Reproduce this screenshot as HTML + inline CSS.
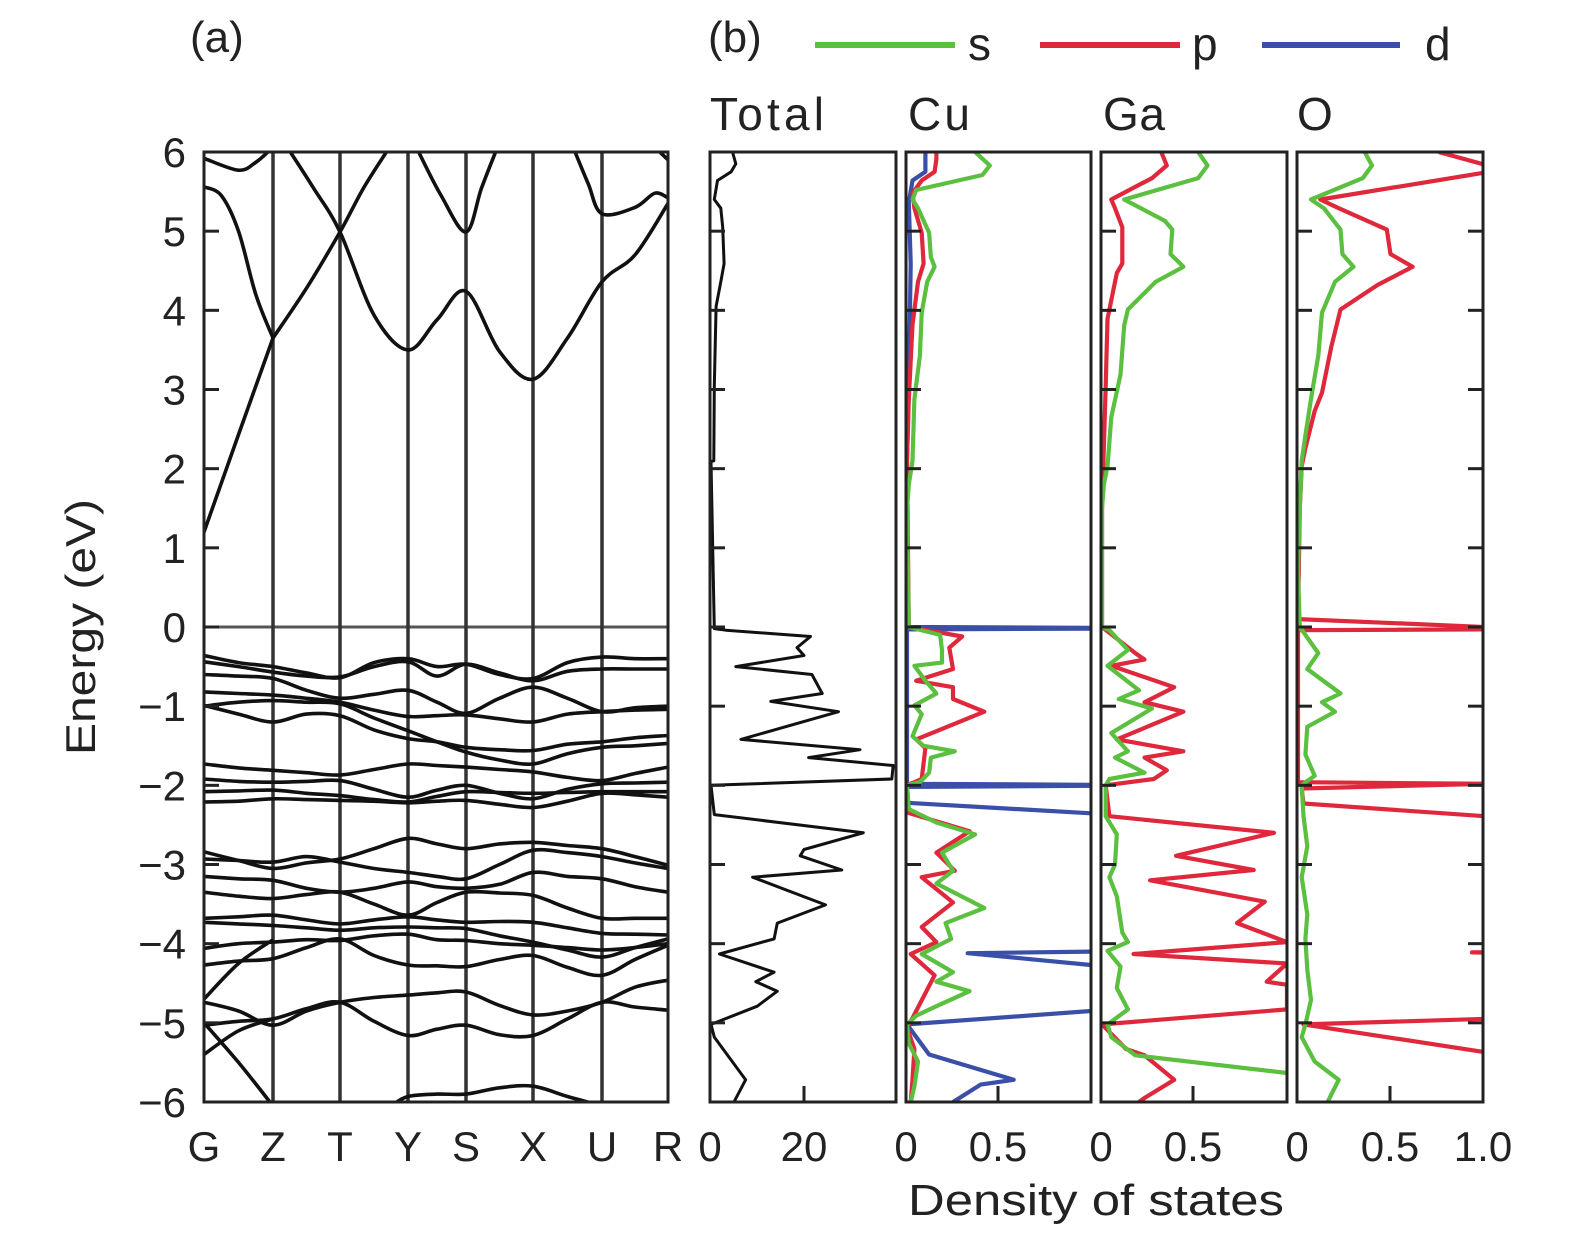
<!DOCTYPE html>
<html><head><meta charset="utf-8">
<style>
html,body{margin:0;padding:0;background:#fff;}
svg{display:block;font-family:"Liberation Sans",sans-serif;}
</style></head>
<body>
<svg id="fig" width="1575" height="1242" viewBox="0 0 1575 1242" xmlns="http://www.w3.org/2000/svg">
<defs>
<clipPath id="clipA"><rect x="204" y="152" width="464" height="950"/></clipPath>
<clipPath id="clipT"><rect x="710" y="152" width="186" height="950"/></clipPath>
<clipPath id="clipCu"><rect x="906" y="152" width="185" height="950"/></clipPath>
<clipPath id="clipGa"><rect x="1101" y="152" width="186" height="950"/></clipPath>
<clipPath id="clipO"><rect x="1297" y="152" width="186" height="950"/></clipPath>
</defs>
<text x="190" y="52" font-size="44" fill="#222">(a)</text>
<text x="708" y="52" font-size="44" fill="#222">(b)</text>
<g>
<line x1="815" y1="45" x2="955" y2="45" stroke="#5bbf3f" stroke-width="6"/>
<text x="968" y="60" font-size="46" fill="#222">s</text>
<line x1="1040" y1="45" x2="1180" y2="45" stroke="#e0283c" stroke-width="6"/>
<text x="1192" y="60" font-size="46" fill="#222">p</text>
<line x1="1262" y1="45" x2="1400" y2="45" stroke="#3a4fa8" stroke-width="6"/>
<text x="1425" y="60" font-size="46" fill="#222">d</text>
</g>
<text x="710" y="130" font-size="46" fill="#222" textLength="114">Total</text>
<text x="908" y="130" font-size="46" fill="#222" textLength="62">Cu</text>
<text x="1103" y="130" font-size="46" fill="#222" textLength="62">Ga</text>
<text x="1297" y="130" font-size="46" fill="#222">O</text>
<text transform="translate(95,627) rotate(-90)" text-anchor="middle" font-size="42" fill="#222" textLength="256" lengthAdjust="spacingAndGlyphs">Energy (eV)</text>
<text x="1096" y="1215" text-anchor="middle" font-size="44" fill="#222" textLength="376" lengthAdjust="spacingAndGlyphs">Density of states</text>
<g id="gA" clip-path="url(#clipA)"></g>
<g id="gT" clip-path="url(#clipT)"></g>
<g id="gCu" clip-path="url(#clipCu)"></g>
<g id="gGa" clip-path="url(#clipGa)"></g>
<g id="gO" clip-path="url(#clipO)"></g>
<g id="axes"></g>
</svg>
<script>
// ---------- data ----------
const kLabels = ["G","Z","T","Y","S","X","U","R"];
const kGrid = [0,0.5,1,1.5,2,2.5,3,3.5,4,4.5,5,5.5,6,6.5,7];
const yTicks = [6,5,4,3,2,1,0,-1,-2,-3,-4,-5,-6];
// conduction bands: k coordinates and energies
const cb1K = [0,0.5,1]; const cb1E = [1.2,2.43,3.65];
const cb2K = [1,1.5,2,2.35,2.72]; const cb2E = [3.65,4.28,4.99,5.55,6.05];
const cb3K = [0,0.25,0.5,0.75,1]; const cb3E = [5.56,5.45,5.0,4.2,3.65];
const cb4K = [1.22,1.6,2,2.5,3,3.5,4,4.5,5,5.5,6,6.5,7]; const cb4E = [6.05,5.55,4.99,3.94,3.5,3.88,4.24,3.48,3.13,3.65,4.36,4.7,5.35];
const cb5K = [0,0.5,0.75,0.95]; const cb5E = [5.92,5.77,5.87,6.02];
const cb6K = [3.17,3.57,4,4.23,4.45]; const cb6E = [6.02,5.45,4.99,5.54,6.02];
const cb7K = [5.6,5.8,6,6.5,6.8,7]; const cb7E = [6.02,5.6,5.22,5.3,5.48,5.42];
const cb8K = [6.85,7]; const cb8E = [6.02,5.9];
// valence bands on kGrid
const vb1 = [-0.36,-0.45,-0.5,-0.58,-0.64,-0.45,-0.4,-0.5,-0.47,-0.6,-0.65,-0.45,-0.38,-0.4,-0.4];
const vb2 = [-0.44,-0.5,-0.57,-0.62,-0.63,-0.5,-0.44,-0.62,-0.47,-0.58,-0.68,-0.56,-0.53,-0.53,-0.53];
const vb3 = [-0.6,-0.62,-0.65,-0.8,-0.9,-0.85,-0.8,-0.95,-1.09,-0.9,-0.76,-0.9,-1.07,-1.02,-1.0];
const vb4 = [-0.82,-0.84,-0.86,-0.9,-0.95,-1.05,-1.13,-1.12,-1.11,-1.16,-1.2,-1.1,-1.07,-1.05,-1.04];
const vb5 = [-0.99,-1.1,-1.2,-1.1,-1.12,-1.3,-1.41,-1.45,-1.52,-1.55,-1.56,-1.48,-1.45,-1.4,-1.37];
const vb6 = [-1.0,-0.95,-0.93,-0.95,-0.97,-1.15,-1.31,-1.45,-1.58,-1.68,-1.73,-1.6,-1.52,-1.5,-1.47];
const vb7 = [-1.73,-1.78,-1.81,-1.84,-1.87,-1.8,-1.73,-1.75,-1.77,-1.8,-1.83,-1.9,-1.94,-1.85,-1.77];
const vb8 = [-1.92,-1.95,-1.96,-1.95,-1.94,-2.05,-2.15,-2.06,-2.0,-2.1,-2.17,-2.05,-1.98,-1.97,-1.96];
const vb9 = [-2.08,-2.07,-2.06,-2.1,-2.13,-2.18,-2.21,-2.14,-2.08,-2.09,-2.1,-2.09,-2.08,-2.08,-2.08];
const vb10 = [-2.21,-2.2,-2.17,-2.18,-2.19,-2.2,-2.22,-2.2,-2.19,-2.24,-2.28,-2.2,-2.1,-2.12,-2.15];
const vb11 = [-2.84,-2.95,-3.05,-2.98,-2.93,-2.8,-2.67,-2.74,-2.8,-2.74,-2.72,-2.76,-2.8,-2.9,-3.01];
const vb12 = [-2.93,-2.95,-2.97,-2.9,-2.97,-3.05,-3.1,-3.15,-3.18,-3.0,-2.82,-2.85,-2.9,-2.98,-3.05];
const vb13 = [-3.15,-3.18,-3.2,-3.3,-3.35,-3.3,-3.22,-3.28,-3.3,-3.25,-3.1,-3.15,-3.18,-3.28,-3.35];
const vb14 = [-3.35,-3.4,-3.43,-3.38,-3.35,-3.5,-3.64,-3.48,-3.35,-3.36,-3.39,-3.55,-3.68,-3.68,-3.68];
const vb15 = [-3.68,-3.66,-3.64,-3.7,-3.75,-3.7,-3.66,-3.7,-3.73,-3.72,-3.73,-3.8,-3.87,-3.88,-3.89];
const vb16 = [-3.73,-3.75,-3.77,-3.8,-3.83,-3.8,-3.79,-3.8,-3.81,-3.9,-3.98,-4.08,-4.17,-4.05,-3.94];
const vb17 = [-4.27,-4.22,-4.19,-4.05,-3.94,-4.15,-4.27,-4.28,-4.29,-4.2,-4.15,-4.3,-4.4,-4.2,-4.02];
const vb18 = [-4.06,-4.0,-3.98,-3.95,-3.96,-3.9,-3.88,-3.95,-3.96,-4.0,-4.02,-4.05,-4.08,-4.05,-4.0];
const vb19 = [-4.74,-4.85,-5.03,-4.85,-4.74,-4.68,-4.65,-4.62,-4.61,-4.78,-4.9,-4.85,-4.74,-4.55,-4.46];
const vb20 = [-5.03,-4.98,-4.95,-4.82,-4.74,-4.98,-5.16,-5.08,-5.03,-5.15,-5.16,-4.95,-4.74,-4.8,-4.84];
const vd1K = [0,0.5,1]; const vd1E = [-5.0,-5.5,-6.05];
const vd2K = [0,0.5,1]; const vd2E = [-5.4,-5.1,-4.95];
const vd3K = [0,0.5,1]; const vd3E = [-4.7,-4.25,-3.95];
const vd4K = [2.75,3,3.5,4,4.5,5,5.5,6]; const vd4E = [-6.05,-5.93,-5.9,-5.9,-5.82,-5.8,-5.93,-6.05];
// total DOS
const totE = [6.0,5.85,5.75,5.64,5.4,5.29,5.05,4.59,4.36,4.05,3.04,2.1,2.09,-0.02,-0.04,-0.12,-0.26,-0.36,-0.50,-0.60,-0.84,-0.94,-1.07,-1.42,-1.55,-1.65,-1.75,-1.92,-2.0,-2.37,-2.60,-2.81,-2.89,-3.07,-3.16,-3.51,-3.74,-3.94,-4.13,-4.36,-4.48,-4.60,-4.79,-5.02,-5.18,-5.72,-5.99];
const totV = [4.6,5.3,4.3,1.4,0.7,2.1,2.5,2.8,2.1,1.1,0.7,0.6,0,0.7,3.2,21.3,18.4,19.9,5.3,21.6,23.8,12.8,27.3,6.4,31.9,20.9,39,38.7,0,0.7,32.6,19.9,19.1,28,8.9,24.5,14.2,13.5,1.8,13.5,9.6,14.2,9.9,0,0.7,7.4,5.0];
// Cu
const cuSE = [6.0,5.83,5.71,5.52,5.4,5.29,4.98,4.67,4.55,4.36,3.97,3.43,2.88,2.1,1.8,1.5,0.0,-0.1,-0.29,-0.45,-0.49,-0.68,-0.84,-0.99,-1.1,-1.38,-1.5,-1.57,-1.65,-1.84,-1.96,-2.0,-2.3,-2.47,-2.62,-2.85,-3.08,-3.24,-3.55,-3.74,-3.94,-4.13,-4.36,-4.48,-4.6,-4.79,-4.91,-5.02,-5.26,-5.49,-5.8,-6.0];
const cuSV = [0.37,0.45,0.41,0.05,0.03,0.06,0.12,0.13,0.15,0.11,0.08,0.07,0.04,0.03,0.01,0,0.01,0.18,0.19,0.19,0.04,0.1,0.16,0.04,0.08,0.03,0.09,0.26,0.13,0.12,0.07,0,0.01,0.16,0.37,0.19,0.25,0.16,0.42,0.21,0.24,0.08,0.25,0.16,0.34,0.16,0.05,0,0.01,0.06,0.04,0.02];
const cuPE = [6.0,5.91,5.75,5.64,5.48,5.29,4.98,4.59,4.36,3.82,2.88,2.1,0.0,-0.12,-0.26,-0.53,-0.68,-0.76,-0.91,-1.07,-1.42,-1.53,-1.92,-2.0,-2.35,-2.58,-2.85,-3.08,-3.16,-3.48,-3.79,-3.98,-4.13,-4.4,-4.94,-5.06,-5.33,-5.72,-6.0];
const cuPV = [0.16,0.16,0.15,0.08,0.03,0.04,0.08,0.09,0.06,0.03,0.01,0,0.01,0.3,0.23,0.25,0.05,0.25,0.25,0.42,0.05,0.1,0.08,0,0.01,0.34,0.16,0.26,0.08,0.25,0.08,0.16,0.02,0.15,0.03,0,0.04,0.03,0.02];
const cuDE = [6.0,5.98,5.75,5.64,5.36,4.59,3.04,2.1,0.0,-0.015,-0.03,-1.98,-2.0,-2.02,-2.22,-2.42,-4.06,-4.1,-4.12,-4.27,-4.3,-4.82,-4.85,-5.02,-5.4,-5.72,-5.78,-6.0];
const cuDV = [0.1,0.1,0.1,0.03,0.01,0.02,0.01,0,0,1.5,0,0,1.5,0,0,1.5,1.5,1.0,0.33,1.0,1.5,1.5,1.0,0,0.12,0.58,0.4,0.25];
// Ga
const gaSE = [6.0,5.83,5.67,5.4,5.13,5.02,4.71,4.55,4.36,4.01,3.81,3.19,2.65,2.03,1.8,1.49,0.0,-0.04,-0.29,-0.49,-0.8,-0.91,-1.03,-1.34,-1.57,-1.65,-1.84,-1.92,-2.0,-2.39,-2.62,-3.0,-3.16,-3.4,-3.86,-3.98,-4.09,-4.29,-4.56,-4.83,-5.02,-5.18,-5.41,-5.68,-6.0];
const gaSV = [0.52,0.57,0.52,0.12,0.34,0.38,0.37,0.44,0.29,0.14,0.12,0.1,0.05,0.03,0.01,0,0,0.04,0.14,0.03,0.2,0.09,0.27,0.05,0.14,0.07,0.23,0.04,0.02,0.02,0.08,0.07,0.04,0.08,0.11,0.14,0.03,0.1,0.08,0.14,0.03,0.05,0.18,1.17,1.17];
const gaPE = [6.0,5.83,5.67,5.4,5.29,5.05,4.59,4.47,3.89,3.04,2.26,1.49,0.0,-0.33,-0.41,-0.49,-0.76,-0.95,-1.07,-1.42,-1.57,-1.65,-1.81,-1.92,-2.0,-2.39,-2.6,-2.89,-3.07,-3.2,-3.47,-3.74,-3.98,-4.13,-4.25,-4.48,-4.52,-4.83,-5.02,-5.33,-5.41,-5.72,-5.95,-6.0];
const gaPV = [0.32,0.35,0.27,0.05,0.07,0.11,0.11,0.08,0.03,0.02,0.01,0,0,0.18,0.23,0.05,0.39,0.23,0.44,0.08,0.44,0.23,0.35,0.28,0.02,0.04,0.93,0.4,0.82,0.26,0.88,0.73,1.0,0.17,1.0,0.89,1.0,1.0,0,0.13,0.23,0.39,0.23,0.2];
// O
const oSE = [6.0,5.83,5.67,5.4,5.29,5.02,4.71,4.55,4.36,3.97,3.43,2.88,2.42,2.1,1.5,0.7,0.0,-0.1,-0.33,-0.53,-0.84,-0.95,-1.07,-1.26,-1.61,-1.88,-1.96,-2.0,-2.39,-2.77,-3.16,-3.63,-3.94,-4.33,-4.71,-5.02,-5.18,-5.49,-5.72,-6.0];
const oSV = [0.36,0.4,0.35,0.07,0.14,0.23,0.24,0.3,0.2,0.13,0.11,0.07,0.04,0.02,0.01,0,0.01,0.04,0.11,0.05,0.23,0.13,0.2,0.05,0.04,0.09,0.04,0.02,0.03,0.05,0.02,0.05,0.04,0.05,0.07,0.04,0.02,0.09,0.22,0.16];
const oPE = [6.0,5.84,5.74,5.4,5.29,5.02,4.71,4.55,4.32,4.01,3.54,2.96,2.73,2.26,2.03,1.5,0.1,0.0,-0.03,-0.04,-1.96,-1.98,-2.04,-2.23,-2.39,-2.6,-4.09,-4.11,-4.13,-4.9,-4.95,-5.02,-5.37,-5.45];
const oPV = [0.76,1.01,1.01,0.12,0.22,0.48,0.5,0.62,0.43,0.23,0.18,0.13,0.09,0.04,0.02,0.01,0,1.01,1.01,0,0,1.01,0.02,0.03,1.01,1.5,1.5,0.94,1.5,1.5,1.01,0.03,1.01,1.5];

// ---------- scales ----------
const NS = "http://www.w3.org/2000/svg";
const kPos = [204,273,340,408,466,533,602,668];
const yOf = e => 627 - e * (950/12);
function xOfK(k){ const i = Math.min(Math.floor(k),6); return kPos[i] + (k-i)*(kPos[i+1]-kPos[i]); }
function mk(tag, attrs, parent){ const el = document.createElementNS(NS, tag); for (const a in attrs) el.setAttribute(a, attrs[a]); parent.appendChild(el); return el; }
function spline(pts){
  let d = "M" + pts[0][0].toFixed(1) + "," + pts[0][1].toFixed(1);
  for (let i=0;i<pts.length-1;i++){
    const p0 = pts[Math.max(i-1,0)], p1 = pts[i], p2 = pts[i+1], p3 = pts[Math.min(i+2,pts.length-1)];
    const c1x = p1[0]+(p2[0]-p0[0])/6, c1y = p1[1]+(p2[1]-p0[1])/6;
    const c2x = p2[0]-(p3[0]-p1[0])/6, c2y = p2[1]-(p3[1]-p1[1])/6;
    d += "C"+c1x.toFixed(1)+","+c1y.toFixed(1)+" "+c2x.toFixed(1)+","+c2y.toFixed(1)+" "+p2[0].toFixed(1)+","+p2[1].toFixed(1);
  }
  return d;
}
const gA = document.getElementById("gA");
const axes = document.getElementById("axes");
const zl = mk("line",{x1:204,y1:yOf(0),x2:668,y2:yOf(0),stroke:"#555","stroke-width":3},gA);


for (let i=1;i<7;i++){
  const l = mk("line",{x1:kPos[i],y1:152,x2:kPos[i],y2:1102,stroke:"#333","stroke-width":3.5},gA);
  
  
}
const condBands = [[cb1K,cb1E],[cb2K,cb2E],[cb3K,cb3E],[cb4K,cb4E],[cb5K,cb5E],[cb6K,cb6E],[cb7K,cb7E],[cb8K,cb8E],[vd1K,vd1E],[vd2K,vd2E],[vd3K,vd3E],[vd4K,vd4E]];
const valBands = [vb1,vb2,vb3,vb4,vb5,vb6,vb7,vb8,vb9,vb10,vb11,vb12,vb13,vb14,vb15,vb16,vb17,vb18,vb19,vb20];
condBands.forEach(b => {
  const pts = b[0].map((k,i)=>[xOfK(k), yOf(b[1][i])]);
  const p = mk("path",{d:spline(pts),fill:"none",stroke:"#111","stroke-width":3.6},gA);
  
  
});
valBands.forEach(b => {
  const pts = kGrid.map((k,i)=>[xOfK(k), yOf(b[i])]);
  const p = mk("path",{d:spline(pts),fill:"none",stroke:"#111","stroke-width":3.6},gA);
  
  
});
function dos(gid, x0, xmax, width, E, V, color, name){
  const g = document.getElementById(gid);
  const pts = E.map((e,i)=> (x0 + V[i]/xmax*width).toFixed(1)+","+yOf(e).toFixed(1)).join(" ");
  const pl = mk("polyline",{points:pts,fill:"none",stroke:color,"stroke-width":color=="#111"?3:4.2,"stroke-linejoin":"round"},g);
  
  
}
const GR="#5bbf3f", RD="#e0283c", BL="#3a4fa8";
dos("gT",711,39.6,185,totE,totV,"#111","total-dos-line");
dos("gCu",907,1,184,cuDE,cuDV,BL,"cu-d-line");
dos("gCu",907,1,184,cuPE,cuPV,RD,"cu-p-line");
dos("gCu",907,1,184,cuSE,cuSV,GR,"cu-s-line");
dos("gGa",1102,1,185,gaPE,gaPV,RD,"ga-p-line");
dos("gGa",1102,1,185,gaSE,gaSV,GR,"ga-s-line");
dos("gO",1298,1,185,oPE,oPV,RD,"o-p-line");
dos("gO",1298,1,185,oSE,oSV,GR,"o-s-line");
const frames = [[204,668,"band-panel-frame"],[710,896,"total-panel-frame"],[906,1091,"cu-panel-frame"],[1101,1287,"ga-panel-frame"],[1297,1483,"o-panel-frame"]];
frames.forEach(f => {
  const r = mk("rect",{x:f[0],y:152,width:f[1]-f[0],height:950,fill:"none",stroke:"#222","stroke-width":3},axes);
  
  
});
yTicks.forEach(t => {
  const y = yOf(t);
  [204,710,906,1101,1297].forEach(x0 => {
    const l = mk("line",{x1:x0,y1:y,x2:x0+15,y2:y,stroke:"#222","stroke-width":3},axes);
    
    
  });
  const r = mk("line",{x1:1483,y1:y,x2:1468,y2:y,stroke:"#222","stroke-width":3},axes);
  
  
  const tx = mk("text",{x:186,y:y+15,"text-anchor":"end","font-size":42,fill:"#222"},axes);
  tx.textContent = t<0 ? "\u2212"+(-t) : String(t);
  
  
});
kLabels.forEach((lab,i) => {
  const tx = mk("text",{x:kPos[i],y:1161,"text-anchor":"middle","font-size":42,fill:"#222"},axes);
  tx.textContent = lab;
  
  
});
const dosTickLabels = [["0",710],["20",804],["0",906],["0.5",998],["0",1101],["0.5",1193],["0",1297],["0.5",1390],["1.0",1483]];
dosTickLabels.forEach(d => {
  const tx = mk("text",{x:d[1],y:1161,"text-anchor":"middle","font-size":42,fill:"#222"},axes);
  tx.textContent = d[0];
  
  
});
[804,998,1193,1390].forEach(x => {
  const l = mk("line",{x1:x,y1:1102,x2:x,y2:1086,stroke:"#222","stroke-width":3},axes);
  
  
});
</script>
</body></html>
